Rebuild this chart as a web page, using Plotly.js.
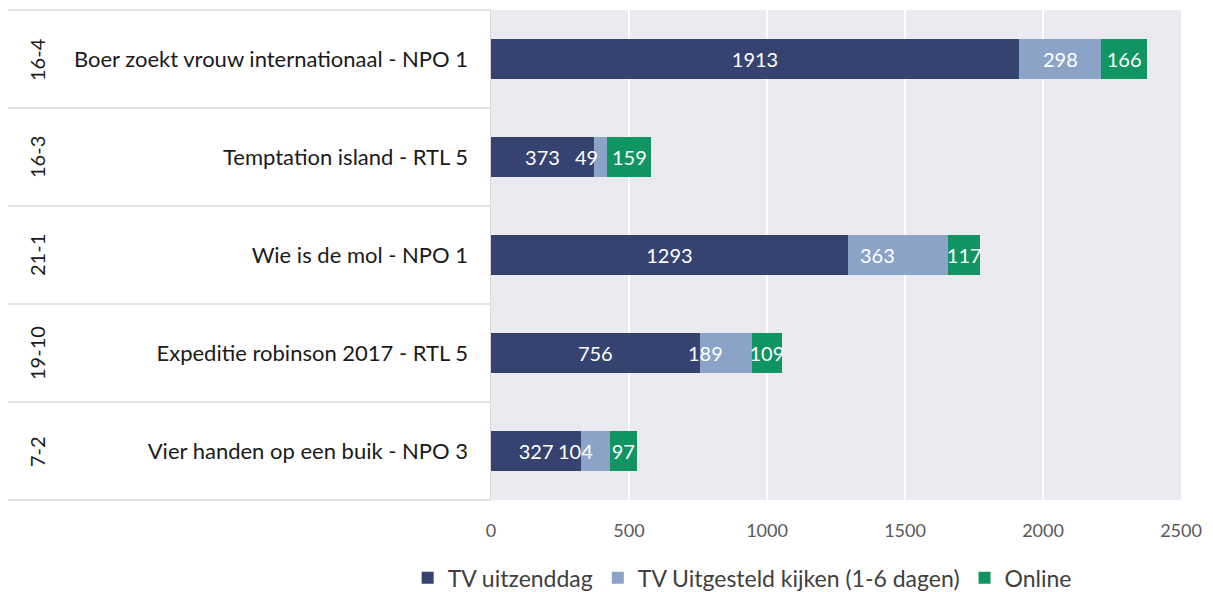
<!DOCTYPE html>
<html>
<head>
<meta charset="utf-8">
<script src="https://cdn.plot.ly/plotly-3.0.1.min.js"></script>
<style>html,body{margin:0;padding:0;background:#fff;}#chart{width:1213px;height:592px;}</style>
</head>
<body>
<div id="chart"></div>
<script>
const dates = ['7-2', '19-10', '21-1', '16-3', '16-4'];
const programs = [
  'Vier handen op een buik - NPO 3',
  'Expeditie robinson 2017 - RTL 5',
  'Wie is de mol - NPO 1',
  'Temptation island - RTL 5',
  'Boer zoekt vrouw internationaal - NPO 1'
];
const tvUitzenddag = [327, 756, 1293, 373, 1913];
const tvUitgesteld = [104, 189, 363, 49, 298];
const online = [97, 109, 117, 159, 166];
const seriesNames = ['TV uitzenddag', 'TV Uitgesteld kijken (1-6 dagen)', 'Online'];
const xTicks = [0, 500, 1000, 1500, 2000, 2500];

// styles
const FONT = 'Lato, "Source Sans Pro", "Noto Sans", sans-serif';
const colors = ['#364270', '#8AA3C7', '#0F9462'];
const midLabelAnchor = ['right', 'right', 'right', 'right', 'center'];
const seriesVals = [tvUitzenddag, tvUitgesteld, online];
const LABEL_SIZE = 20;

const traces = seriesVals.map((vals, i) => ({
  type: 'bar',
  orientation: 'h',
  name: seriesNames[i],
  y: programs,
  x: vals,
  width: 0.4,
  marker: {color: colors[i], line: {width: 0}},
  text: i === 1 ? undefined : vals.map(String),
  texttemplate: i === 1 ? '' : '%{text}',
  textposition: i === 1 ? 'none' : 'inside',
  insidetextanchor: 'middle',
  constraintext: 'none',
  textangle: 0,
  textfont: {family: FONT, size: LABEL_SIZE, color: '#ffffff'},
  hoverinfo: 'skip'
}));

const n = programs.length;
const shapes = [];
for (let i = 0; i <= n; i++) {
  shapes.push({
    type: 'line', xref: 'paper', yref: 'paper',
    x0: -0.7, x1: 0, y0: i / n, y1: i / n,
    line: {color: '#D9D9D9', width: 1.5}
  });
}
const annotations = dates.map((d, i) => ({
  xref: 'paper', yref: 'y',
  x: -0.658, y: programs[i],
  text: d, showarrow: false, textangle: -90,
  xanchor: 'center', yanchor: 'middle',
  font: {family: FONT, size: 20, color: '#1a1a1a'}
}));
// labels of the middle series, drawn above all bars
tvUitgesteld.forEach((v, i) => {
  annotations.push({
    xref: 'x', yref: 'y',
    x: tvUitzenddag[i] + v / 2, y: programs[i],
    text: String(v), showarrow: false,
    xanchor: midLabelAnchor[i], yanchor: 'middle',
    xshift: midLabelAnchor[i] === 'right' ? -1 : 0,
    font: {family: FONT, size: LABEL_SIZE, color: '#ffffff'}
  });
});

const layout = {
  width: 1213, height: 592,
  margin: {l: 491, r: 32, t: 10, b: 92, autoexpand: false},
  paper_bgcolor: '#ffffff',
  plot_bgcolor: '#EBEAF0',
  barmode: 'stack',
  bargap: 0.6,
  font: {family: FONT},
  showlegend: true,
  legend: {
    orientation: 'h', x: 0.364, xanchor: 'center', y: -0.159, yanchor: 'middle',
    traceorder: 'normal',
    font: {family: FONT, size: 23, color: '#404040'},
    bgcolor: 'rgba(0,0,0,0)'
  },
  xaxis: {
    range: [0, 2500], tickvals: xTicks, ticktext: xTicks.map(String),
    showgrid: true, gridcolor: '#ffffff', gridwidth: 1.5,
    zeroline: false, showline: false,
    ticks: 'outside', ticklen: 14, tickcolor: 'rgba(0,0,0,0)',
    tickfont: {family: FONT, size: 18, color: '#595959'},
    fixedrange: true
  },
  yaxis: {
    type: 'category', categoryorder: 'array', categoryarray: programs,
    range: [-0.5, n - 0.5],
    showgrid: false, zeroline: false,
    showline: true, linecolor: '#D9D9D9', linewidth: 1.5,
    ticks: 'outside', ticklen: 17, tickcolor: 'rgba(0,0,0,0)',
    tickfont: {family: FONT, size: 22, color: '#1a1a1a'},
    fixedrange: true
  },
  shapes: shapes,
  annotations: annotations
};

Plotly.newPlot('chart', traces, layout, {staticPlot: true, displayModeBar: false});
</script>
</body>
</html>
